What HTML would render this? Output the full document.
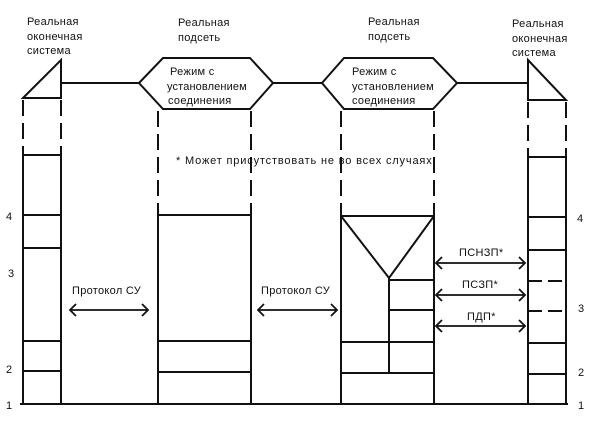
<!DOCTYPE html>
<html><head><meta charset="utf-8"><style>
html,body{margin:0;padding:0;background:#fff;}
svg{display:block;}
text{font-family:"Liberation Sans","DejaVu Sans",sans-serif;font-size:11px;fill:#111;letter-spacing:0.3px;}
</style></head><body>
<svg width="600" height="431" viewBox="0 0 600 431" xmlns="http://www.w3.org/2000/svg">
<g stroke="#111" stroke-width="2" fill="none">
<polygon points="23,98 61,60 61,98" fill="#fff"/>
<line x1="61" y1="83" x2="139" y2="83"/>
<polygon points="139,83 163,58 250,58 273,83 250,109 163,109" fill="#fff"/>
<line x1="273" y1="83" x2="322" y2="83"/>
<polygon points="322,83 344,58 433,58 457,83 433,109 344,109" fill="#fff"/>
<line x1="457" y1="83" x2="528" y2="83"/>
<polygon points="528,60 566,100 528,100" fill="#fff"/>
<g stroke-dasharray="16,7">
<line x1="23" y1="100" x2="23" y2="155"/>
<line x1="61" y1="100" x2="61" y2="155"/>
<line x1="158" y1="111" x2="158" y2="215"/>
<line x1="251" y1="111" x2="251" y2="215"/>
<line x1="341" y1="111" x2="341" y2="216"/>
<line x1="434" y1="111" x2="434" y2="216"/>
<line x1="528" y1="102" x2="528" y2="157"/>
<line x1="566" y1="102" x2="566" y2="157"/>
</g>
<rect x="23" y="155" width="38" height="249"/>
<line x1="23" y1="215" x2="61" y2="215"/>
<line x1="23" y1="248" x2="61" y2="248"/>
<line x1="23" y1="341" x2="61" y2="341"/>
<line x1="23" y1="371" x2="61" y2="371"/>
<line x1="20" y1="404" x2="568" y2="404"/>
<rect x="158" y="215" width="93" height="189"/>
<line x1="158" y1="341" x2="251" y2="341"/>
<line x1="158" y1="372" x2="251" y2="372"/>
<rect x="341" y="216" width="93" height="188"/>
<polyline points="341,216 389,278 434,216"/>
<line x1="389" y1="278" x2="389" y2="372"/>
<line x1="389" y1="280" x2="434" y2="280"/>
<line x1="389" y1="310" x2="434" y2="310"/>
<line x1="341" y1="342" x2="434" y2="342"/>
<line x1="341" y1="373" x2="434" y2="373"/>
<rect x="528" y="157" width="38" height="247"/>
<line x1="528" y1="217" x2="566" y2="217"/>
<line x1="528" y1="250" x2="566" y2="250"/>
<line x1="528" y1="343" x2="566" y2="343"/>
<line x1="528" y1="374" x2="566" y2="374"/>
<line x1="528" y1="281" x2="542" y2="281"/><line x1="548" y1="281" x2="562" y2="281"/>
<line x1="528" y1="311" x2="542" y2="311"/><line x1="548" y1="311" x2="562" y2="311"/>
<g stroke-width="1.8">
<line x1="70" y1="310" x2="148" y2="310"/>
<polyline points="76,304 70,310 76,316"/><polyline points="142,304 148,310 142,316"/>
<line x1="258" y1="310" x2="337" y2="310"/>
<polyline points="264,304 258,310 264,316"/><polyline points="331,304 337,310 331,316"/>
<line x1="436" y1="263" x2="525" y2="263"/>
<polyline points="442,257 436,263 442,269"/><polyline points="519,257 525,263 519,269"/>
<line x1="436" y1="295" x2="525" y2="295"/>
<polyline points="442,289 436,295 442,301"/><polyline points="519,289 525,295 519,301"/>
<line x1="436" y1="326" x2="525" y2="326"/>
<polyline points="442,320 436,326 442,332"/><polyline points="519,320 525,326 519,332"/>
</g>
</g>
<text x="27" y="25">Реальная</text>
<text x="27" y="40">оконечная</text>
<text x="27" y="54">система</text>
<text x="178" y="26">Реальная</text>
<text x="178" y="41">подсеть</text>
<text x="368" y="25">Реальная</text>
<text x="368" y="40">подсеть</text>
<text x="512" y="27">Реальная</text>
<text x="512" y="42">оконечная</text>
<text x="512" y="56">система</text>
<text x="170" y="75">Режим с</text>
<text x="167" y="90" textLength="80">установлением</text>
<text x="168" y="104">соединения</text>
<text x="352" y="75">Режим с</text>
<text x="352" y="90" textLength="82">установлением</text>
<text x="352" y="104">соединения</text>
<text x="176" y="164" textLength="256">* Может присутствовать не во всех случаях</text>
<text x="72" y="294">Протокол СУ</text>
<text x="261" y="294">Протокол СУ</text>
<text x="459" y="256">ПСНЗП*</text>
<text x="462" y="288">ПСЗП*</text>
<text x="467" y="320">ПДП*</text>
<text x="6" y="220">4</text>
<text x="8" y="277">3</text>
<text x="6" y="373">2</text>
<text x="6" y="409">1</text>
<text x="577" y="222">4</text>
<text x="578" y="312">3</text>
<text x="578" y="376">2</text>
<text x="578" y="409">1</text>
</svg>
</body></html>
